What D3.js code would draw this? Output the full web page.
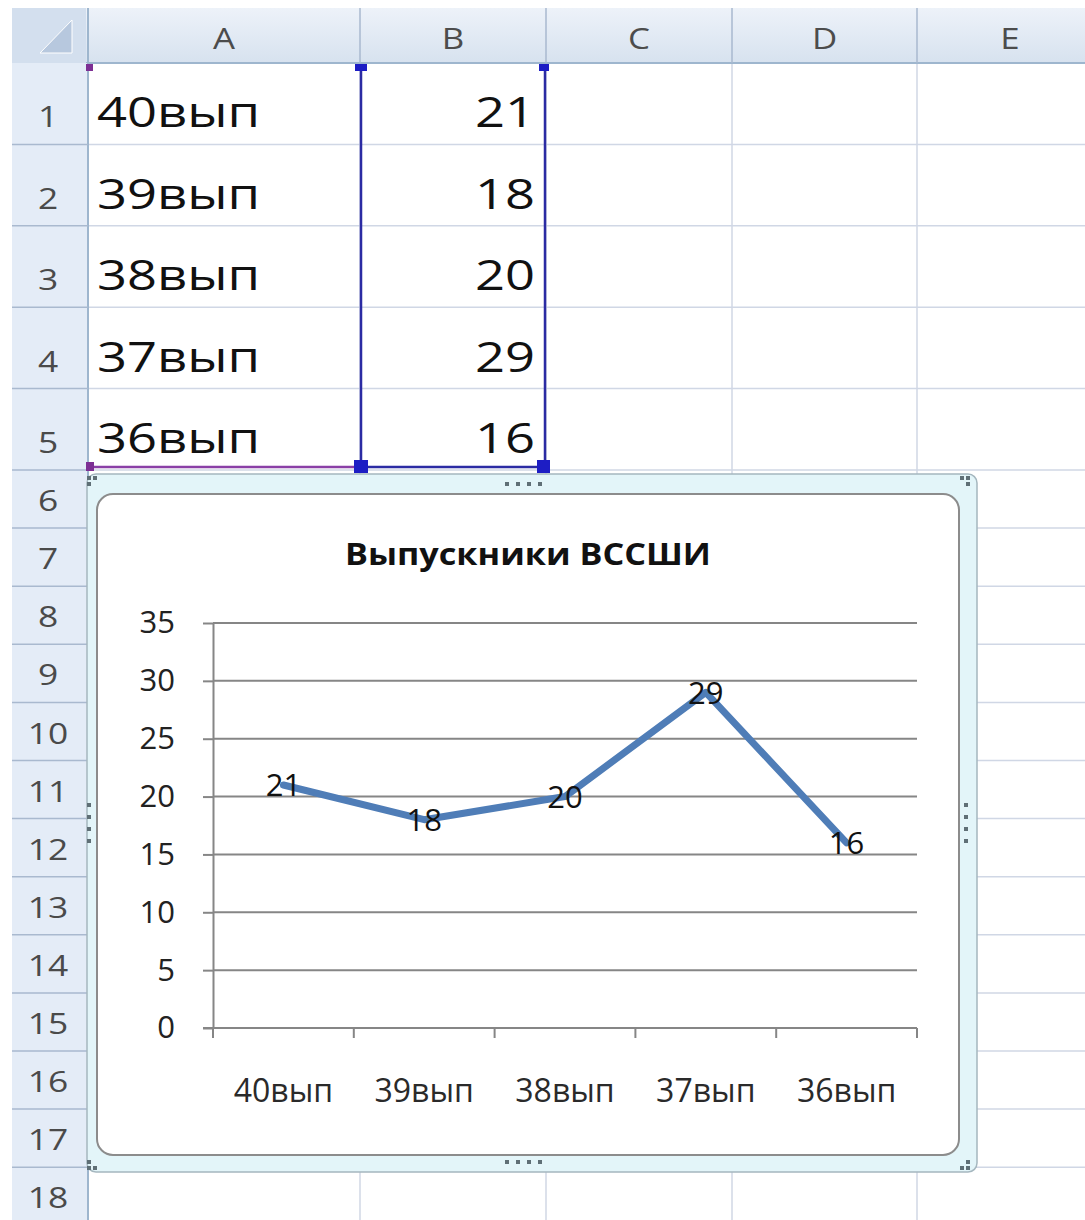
<!DOCTYPE html>
<html>
<head>
<meta charset="utf-8">
<script src="https://cdn.jsdelivr.net/npm/d3@7"></script>
<style>
  body { margin: 0; background: #fff; }
  svg { display: block; }
</style>
</head>
<body>
<div id="sheet"></div>
<script>
// данные листа и диаграммы
const categories = ["40вып", "39вып", "38вып", "37вып", "36вып"];
const values = [21, 18, 20, 29, 16];
const yTicks = [0, 5, 10, 15, 20, 25, 30, 35];
const columnLetters = ["A", "B", "C", "D", "E"];
const rowNumbers = [1, 2, 3, 4, 5, 6, 7, 8, 9, 10, 11, 12, 13, 14, 15, 16, 17, 18];
const chartTitle = "Выпускники ВССШИ";

const width = 1085, height = 1220;
const font = "'Open Sans', 'Noto Sans', sans-serif";

const svg = d3.select("#sheet").append("svg")
  .attr("width", width)
  .attr("height", height);

const defs = svg.append("defs");
const hg = defs.append("linearGradient").attr("id", "headGrad")
  .attr("x1", 0).attr("y1", 0).attr("x2", 0).attr("y2", 1);
hg.append("stop").attr("offset", "0%").attr("stop-color", "#edf2f9");
hg.append("stop").attr("offset", "100%").attr("stop-color", "#d7e2ef");

// геометрия листа
const colEdges = [88, 360, 546, 732, 917, 1103];
const headTop = 8, headBottom = 63;
const rowTop = i => i < 5 ? headBottom + i * 81.4 : 470 + (i - 5) * 58.1;

// текст с растяжкой по горизонтали (как в скриншоте)
function stretchText(parent, x, y, str, size, sx, anchor, fill, weight) {
  parent.append("g")
    .attr("transform", `translate(${x},${y}) scale(${sx},1)`)
    .append("text")
    .attr("text-anchor", anchor)
    .attr("font-family", font)
    .attr("font-size", size)
    .attr("font-weight", weight || "normal")
    .attr("fill", fill)
    .text(str);
}

// сетка ячеек
const grid = svg.append("g");
grid.selectAll("line.v").data(colEdges)
  .enter().append("line")
  .attr("x1", d => d).attr("x2", d => d)
  .attr("y1", headBottom).attr("y2", height)
  .attr("stroke", "#d0d7e5").attr("stroke-width", 1.5);
grid.selectAll("line.h").data(rowNumbers)
  .enter().append("line")
  .attr("x1", 88).attr("x2", width)
  .attr("y1", (d, i) => rowTop(i + 1)).attr("y2", (d, i) => rowTop(i + 1))
  .attr("stroke", "#d0d7e5").attr("stroke-width", 1.5);

// заголовки столбцов
svg.append("rect").attr("x", 12).attr("y", headTop)
  .attr("width", width - 12).attr("height", headBottom - headTop)
  .attr("fill", "url(#headGrad)");
svg.append("line").attr("x1", 12).attr("x2", width)
  .attr("y1", headBottom).attr("y2", headBottom)
  .attr("stroke", "#9eb6ce").attr("stroke-width", 2);
svg.selectAll("line.colsep").data(colEdges)
  .enter().append("line")
  .attr("x1", d => d).attr("x2", d => d)
  .attr("y1", headTop).attr("y2", headBottom)
  .attr("stroke", "#a9b9cf").attr("stroke-width", 1.5);
columnLetters.forEach((c, i) => {
  stretchText(svg, (colEdges[i] + colEdges[i + 1]) / 2, 49, c, 29, 1.2, "middle", "#4c4c4c");
});

// заголовки строк
svg.append("rect").attr("x", 12).attr("y", headBottom)
  .attr("width", 76).attr("height", height - headBottom)
  .attr("fill", "#e4ecf7");
svg.append("line").attr("x1", 88).attr("x2", 88)
  .attr("y1", headTop).attr("y2", height)
  .attr("stroke", "#9eb6ce").attr("stroke-width", 2);
svg.selectAll("line.rowsep").data(rowNumbers)
  .enter().append("line")
  .attr("x1", 12).attr("x2", 88)
  .attr("y1", (d, i) => rowTop(i + 1)).attr("y2", (d, i) => rowTop(i + 1))
  .attr("stroke", "#a9b9cf").attr("stroke-width", 1.5);
rowNumbers.forEach((n, i) => {
  stretchText(svg, 48, rowTop(i + 1) - 17, String(n), 29, 1.22, "middle", "#4a4a4a");
});

// угол "выделить всё"
svg.append("rect").attr("x", 12).attr("y", headTop)
  .attr("width", 74).attr("height", headBottom - headTop)
  .attr("fill", "#d3dfee");
svg.append("path")
  .attr("d", "M72,20 L72,53 L40,53 Z")
  .attr("fill", "#b7c8de").attr("stroke", "#ffffff").attr("stroke-width", 1);

// значения в ячейках
categories.forEach((c, i) => {
  stretchText(svg, 97, rowTop(i + 1) - 17, c, 42, 1.25, "start", "#111");
  stretchText(svg, 535, rowTop(i + 1) - 17, String(values[i]), 42, 1.25, "end", "#111");
});

// рамки диапазонов данных: категории (фиолетовая), значения (синяя)
svg.append("line").attr("x1", 89).attr("x2", 360).attr("y1", 467).attr("y2", 467)
  .attr("stroke", "#8a3fa6").attr("stroke-width", 2.5);
svg.append("path").attr("d", "M361,67 V467 H545 V67")
  .attr("fill", "none").attr("stroke", "#2b2ba3").attr("stroke-width", 2.5);
[[86, 64, 7, 7, "#7d2f94"], [86, 462, 8, 9, "#7d2f94"],
 [355, 64, 12, 7, "#1d1dc4"], [539, 64, 10, 7, "#1d1dc4"],
 [354, 460, 14, 13, "#1d1dc4"], [537, 460, 13, 13, "#1d1dc4"]]
  .forEach(h => svg.append("rect").attr("x", h[0]).attr("y", h[1])
    .attr("width", h[2]).attr("height", h[3]).attr("fill", h[4]));

// область диаграммы
const chartG = svg.append("g");
chartG.append("rect").attr("x", 87).attr("y", 474).attr("width", 890).attr("height", 698)
  .attr("rx", 9).attr("fill", "#e3f5f9").attr("stroke", "#a5b7bf").attr("stroke-width", 1.5);
chartG.append("rect").attr("x", 97).attr("y", 494).attr("width", 862).attr("height", 661)
  .attr("rx", 16).attr("fill", "#ffffff").attr("stroke", "#8c8c8c").attr("stroke-width", 2);

// маркеры перемещения
const dots = [];
[507, 518, 529, 540].forEach(x => { dots.push([x, 484]); dots.push([x, 1162]); });
[805, 817, 829, 841].forEach(y => { dots.push([89, y]); dots.push([966, y]); });
[[89, 478], [95, 478], [89, 484], [962, 478], [968, 478], [968, 484],
 [89, 1162], [89, 1168], [95, 1168], [968, 1162], [968, 1168], [962, 1168]]
  .forEach(d => dots.push(d));
chartG.selectAll("rect.dot").data(dots).enter().append("rect")
  .attr("x", d => d[0] - 2).attr("y", d => d[1] - 2)
  .attr("width", 4).attr("height", 4).attr("fill", "#5f6f76");

// шкалы
const x = d3.scaleBand().domain(categories).range([213, 917]);
const y = d3.scaleLinear().domain([0, 35]).range([1028, 623]);

// линии сетки
chartG.selectAll("line.grid").data(yTicks.slice(1))
  .enter().append("line")
  .attr("x1", 213).attr("x2", 917)
  .attr("y1", d => y(d)).attr("y2", d => y(d))
  .attr("stroke", "#868686").attr("stroke-width", 2);

// ось Y
const yAxis = chartG.append("g")
  .attr("transform", "translate(213,0)")
  .call(d3.axisLeft(y).tickValues(yTicks).tickSizeInner(10).tickSizeOuter(0).tickPadding(28));
yAxis.select(".domain").attr("stroke", "#868686").attr("stroke-width", 2);
yAxis.selectAll(".tick line").attr("stroke", "#868686").attr("stroke-width", 2);
yAxis.selectAll(".tick text").attr("font-family", font).attr("font-size", 31).attr("fill", "#222");

// ось X
const xAxis = chartG.append("g")
  .attr("transform", "translate(0,1028)")
  .call(d3.axisBottom(x).tickSize(0).tickPadding(51));
xAxis.select(".domain").attr("stroke", "#868686").attr("stroke-width", 2)
  .attr("d", "M203,0H917");
xAxis.selectAll(".tick text").attr("font-family", font).attr("font-size", 32).attr("fill", "#2a2a2a");
const edges = categories.map(c => x(c)).concat([x(categories[categories.length - 1]) + x.bandwidth()]);
xAxis.selectAll("line.edge").data(edges)
  .enter().append("line")
  .attr("x1", d => d).attr("x2", d => d)
  .attr("y1", 0).attr("y2", 10)
  .attr("stroke", "#868686").attr("stroke-width", 2);

// линия ряда
const line = d3.line()
  .x((d, i) => x(categories[i]) + x.bandwidth() / 2)
  .y(d => y(d));
chartG.append("path")
  .datum(values)
  .attr("d", line)
  .attr("fill", "none")
  .attr("stroke", "#4f7db7")
  .attr("stroke-width", 7)
  .attr("stroke-linejoin", "round")
  .attr("stroke-linecap", "round");

// подписи данных
chartG.selectAll("text.lbl").data(values)
  .enter().append("text")
  .attr("x", (d, i) => x(categories[i]) + x.bandwidth() / 2)
  .attr("y", d => y(d))
  .attr("dy", "0.36em")
  .attr("text-anchor", "middle")
  .attr("font-family", font)
  .attr("font-size", 31)
  .attr("fill", "#111")
  .text(d => d);

// заголовок
stretchText(chartG, 528, 565, chartTitle, 30, 1.14, "middle", "#111", "bold");
</script>
</body>
</html>
